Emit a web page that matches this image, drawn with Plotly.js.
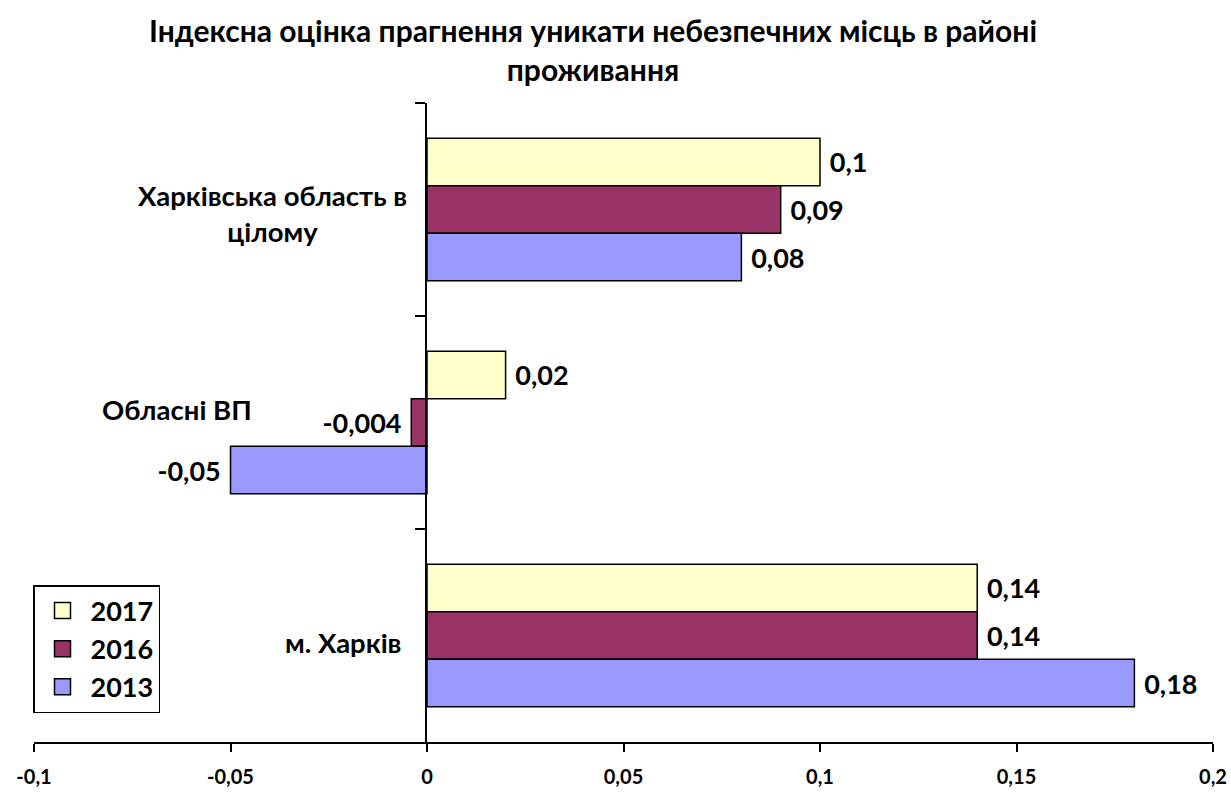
<!DOCTYPE html>
<html>
<head>
<meta charset="utf-8">
<script src="https://cdn.plot.ly/plotly-3.0.1.min.js"></script>
<style>html,body{margin:0;padding:0;background:#fff;}#chart{width:1231px;height:792px;}</style>
</head>
<body>
<div id="chart"></div>
<script>
const categories = ["Харківська область в цілому", "Обласні ВП", "м. Харків"];
const categoryLabels = ["Харківська область в<br>цілому", "Обласні ВП", "м. Харків"];
const seriesNames = ["2017", "2016", "2013"];
const values2017 = [0.1, 0.02, 0.14];
const values2016 = [0.09, -0.004, 0.14];
const values2013 = [0.08, -0.05, 0.18];
const xTickVals = [-0.1, -0.05, 0, 0.05, 0.1, 0.15, 0.2];
const xTickText = ["-0,1", "-0,05", "0", "0,05", "0,1", "0,15", "0,2"];
const colors = ["#FFFFCC", "#993366", "#9999FF"];

const numFont = "Lato, 'Open Sans', sans-serif";
const pad = '\u2009\u2009';
const fmt = v => v < 0 ? String(v).replace('.', ',') + pad : pad + String(v).replace('.', ',');

const allValues = [values2017, values2016, values2013];
const barTraces = allValues.map((vals, i) => ({
  type: 'bar',
  orientation: 'h',
  name: seriesNames[i],
  legendgroup: seriesNames[i],
  showlegend: false,
  y: categories,
  x: vals,
  text: vals.map(fmt),
  textposition: 'outside',
  cliponaxis: false,
  textfont: {family: numFont, size: 27, color: '#000', weight: 'bold'},
  marker: {color: colors[i], line: {color: '#000', width: 1.5}},
  hoverinfo: 'none'
}));
// legend swatches (square markers like the original legend keys)
const legendTraces = seriesNames.map((n, i) => ({
  type: 'scatter', mode: 'markers',
  name: '<b>' + n + '</b>',
  legendgroup: n,
  x: [null], y: [null],
  marker: {symbol: 'square', size: 20, color: colors[i], line: {color: '#000', width: 1.5}},
  hoverinfo: 'none'
}));

const L = 34, R = 1213, T = 103, B = 742;
const px = x => (x - L) / (R - L);
const py = y => (B - y) / (B - T);

const annotations = [
  {x: px(272), y: py(214), text: '<b>' + categoryLabels[0] + '</b>'},
  {x: px(177), y: py(409), text: '<b>' + categoryLabels[1] + '</b>'},
  {x: px(343), y: py(642), text: '<b>' + categoryLabels[2] + '</b>'}
].map(a => ({
  x: a.x, y: a.y, text: a.text,
  xref: 'paper', yref: 'paper', xanchor: 'center', yanchor: 'middle',
  showarrow: false, align: 'center',
  font: {family: numFont, size: 27.5, color: '#000', weight: 'bold'}
}));

const layout = {
  width: 1231, height: 792,
  margin: {l: L, r: 1231 - R, t: T, b: 792 - B},
  paper_bgcolor: '#fff', plot_bgcolor: '#fff',
  title: {
    text: '<b>Індексна оцінка прагнення уникати небезпечних місць в районі<br>проживання</b>',
    font: {family: numFont, size: 30, color: '#000', weight: 'bold'},
    x: 593 / 1231, xanchor: 'center', xref: 'container',
    y: 1 - 42 / 792, yanchor: 'middle', yref: 'container'
  },
  barmode: 'group',
  bargap: 0.33,
  bargroupgap: 0,
  showlegend: true,
  legend: {
    x: px(33), y: py(585), xanchor: 'left', yanchor: 'top',
    bordercolor: '#000', borderwidth: 1.5, bgcolor: '#fff',
    font: {family: numFont, size: 27, color: '#000', weight: 'bold'},
    traceorder: 'normal', tracegroupgap: 0,
    itemsizing: 'trace',
    itemwidth: 46
  },
  xaxis: {
    range: [-0.1, 0.2],
    tickvals: xTickVals, ticktext: xTickText.map(t => '<b>' + t + '</b>'),
    showgrid: false, zeroline: false,
    showline: true, linecolor: '#000', linewidth: 2,
    ticks: 'outside', ticklen: 8, tickwidth: 2, tickcolor: '#000',
    ticklabelstandoff: 8,
    tickfont: {family: numFont, size: 20, color: '#000', weight: 'bold'},
    fixedrange: true
  },
  yaxis: {
    type: 'category',
    categoryorder: 'array', categoryarray: categories,
    autorange: 'reversed',
    anchor: 'free', position: px(426),
    showline: true, linecolor: '#000', linewidth: 2,
    ticks: 'outside', tickson: 'boundaries', ticklen: 10, tickwidth: 2, tickcolor: '#000',
    showticklabels: false,
    showgrid: false, zeroline: false,
    fixedrange: true
  },
  annotations: annotations
};

Plotly.newPlot('chart', barTraces.concat(legendTraces), layout, {displayModeBar: false, staticPlot: true});
</script>
</body>
</html>
